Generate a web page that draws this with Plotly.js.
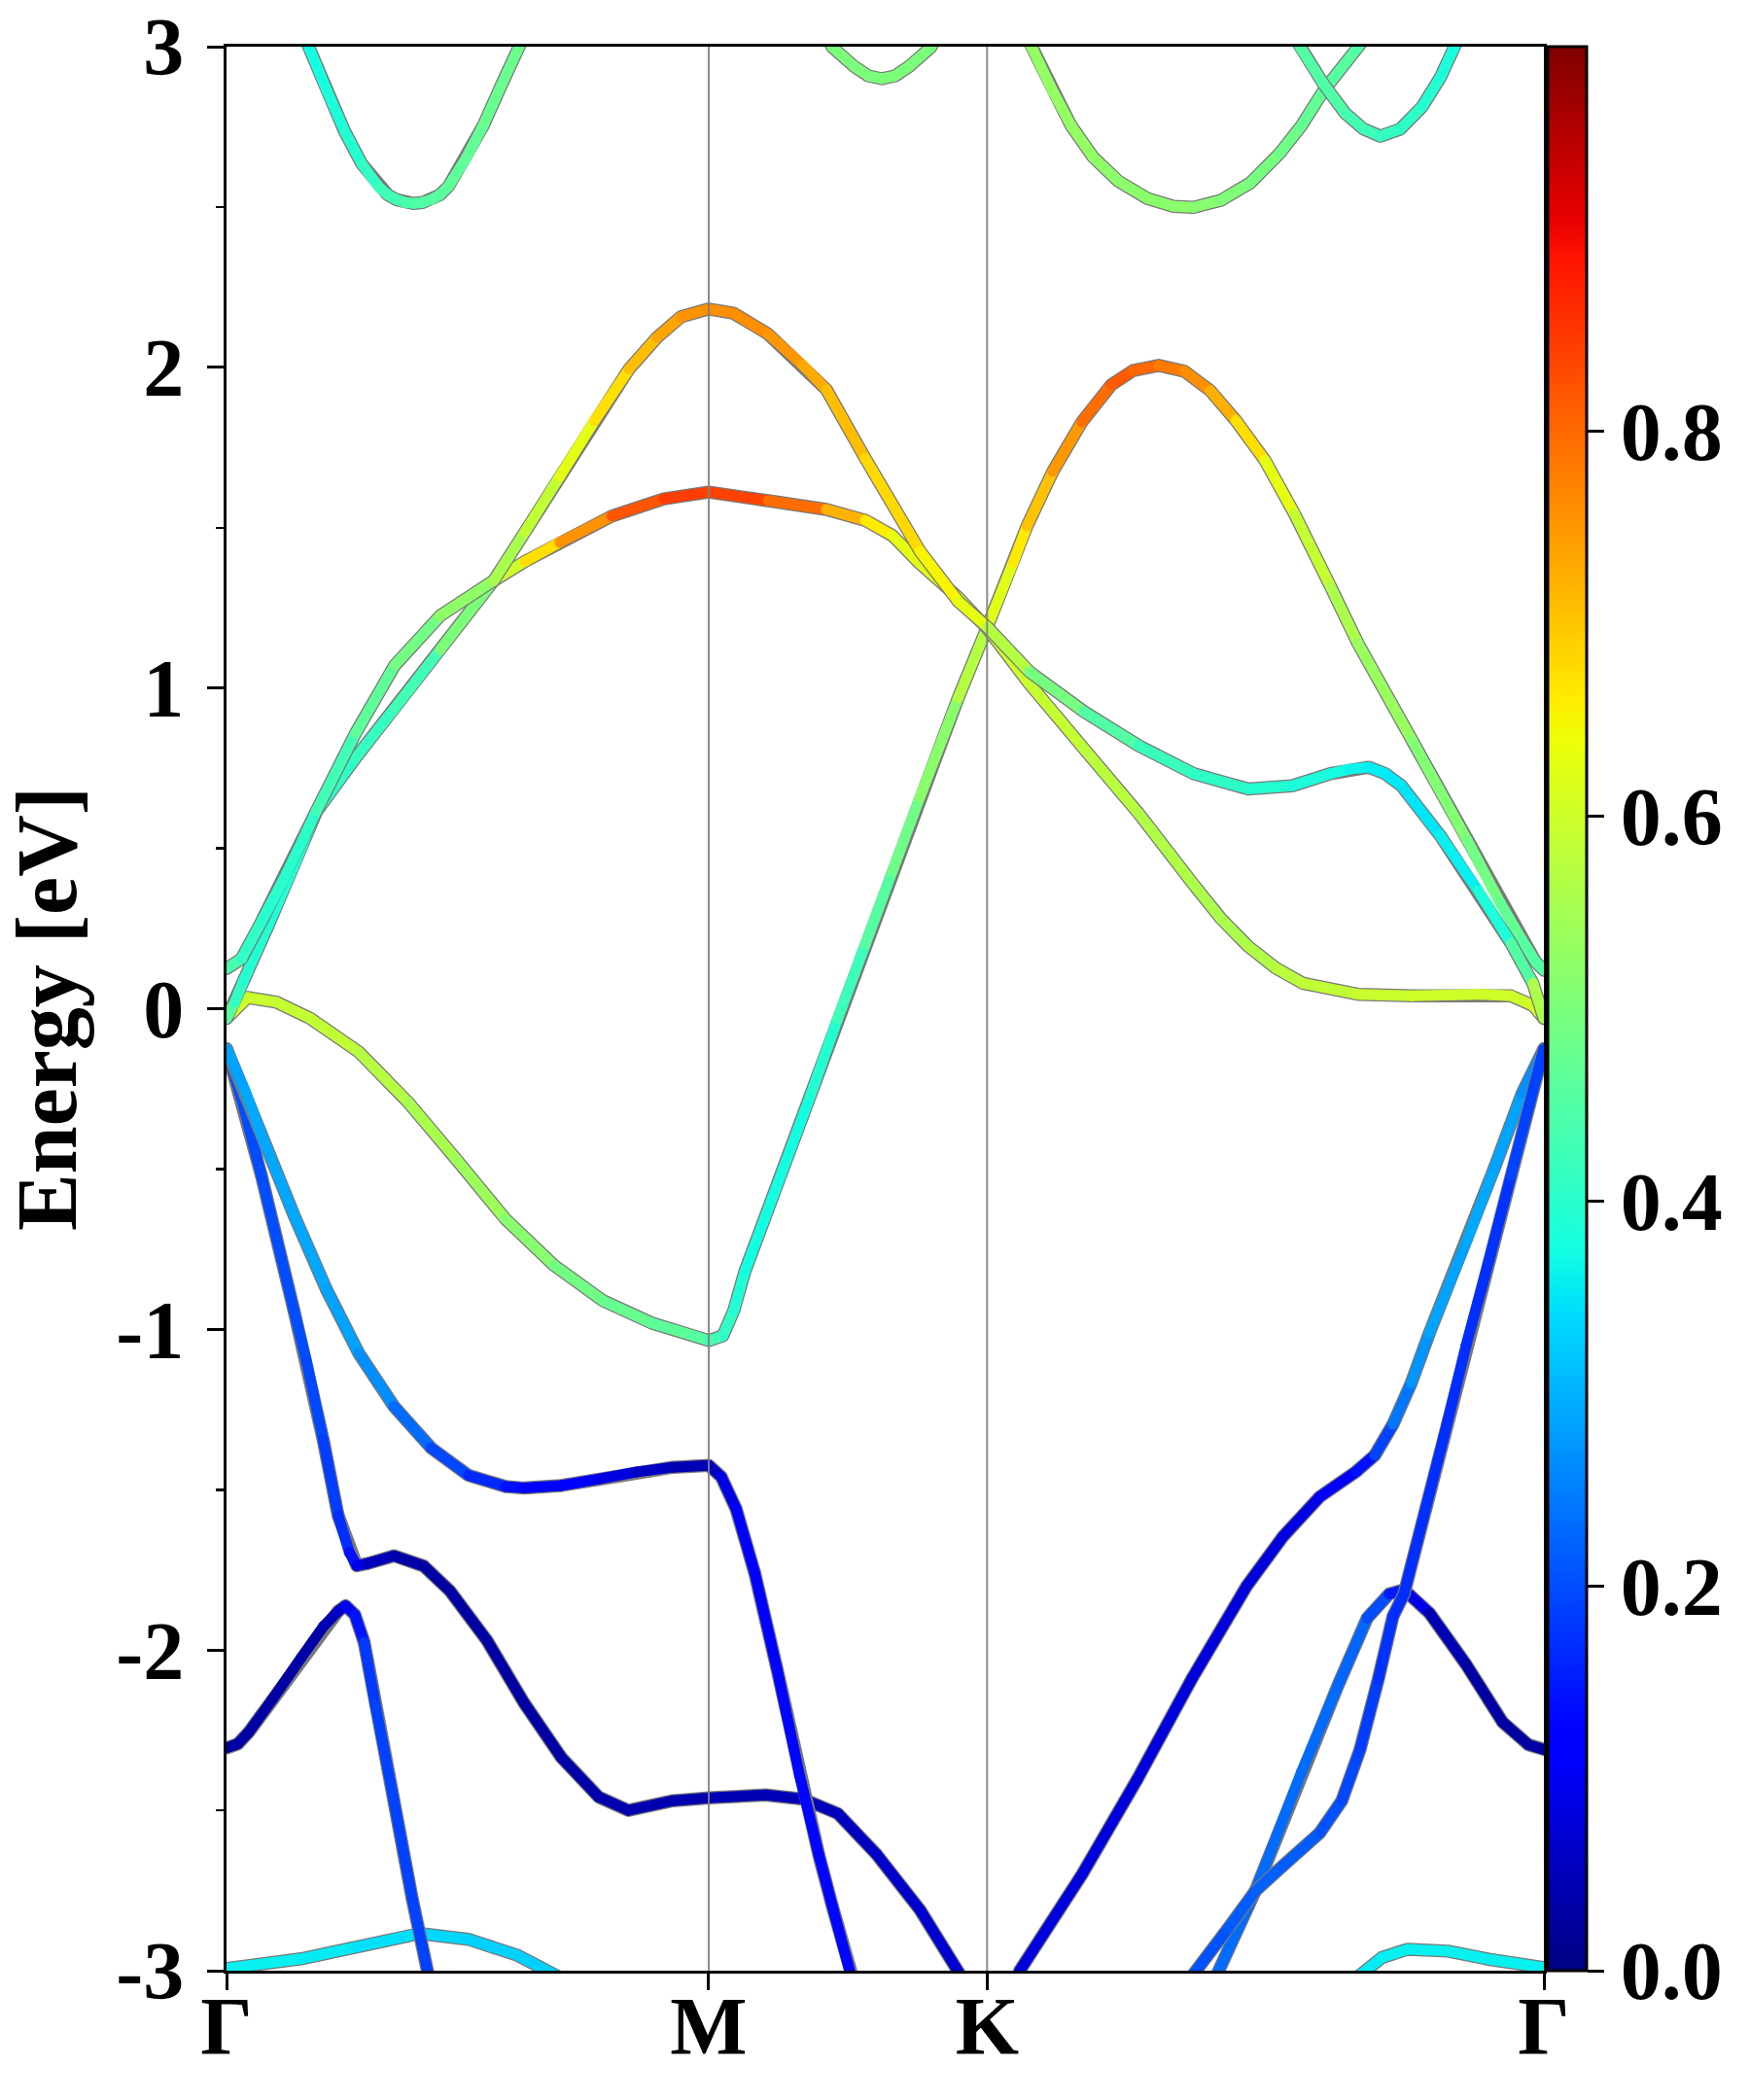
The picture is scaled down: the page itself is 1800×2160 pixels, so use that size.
<!DOCTYPE html>
<html><head><meta charset="utf-8">
<script src="https://cdn.plot.ly/plotly-3.0.1.min.js"></script>
<style>
html,body{margin:0;padding:0;background:#fff;}
#chart{width:1800px;height:2160px;}
#chart .js-line{stroke-linecap:round;stroke-linejoin:round;}
</style></head><body><div id="chart"></div>
<script>
// k-path high-symmetry points and labels
const xTickVals = [0, 0.5774, 0.9107, 1.5774];
const xTickText = ['Γ', 'M', 'K', 'Γ'];
const yTickVals = [-3, -2, -1, 0, 1, 2, 3];
const yTickText = ['-3', '-2', '-1', '0', '1', '2', '3'];
const yMinorVals = [-2.5, -1.5, -0.5, 0.5, 1.5, 2.5];
const cbTickVals = [0, 0.2, 0.4, 0.6, 0.8];
const cbTickText = ['0.0', '0.2', '0.4', '0.6', '0.8'];

// band 1 (cyan, near -3 eV)
const k1 = [0, 0.0891, 0.1559, 0.2316, 0.2895, 0.3474, 0.3831, 0.42, 0.9, 1.335, 1.3595, 1.3834, 1.4142, 1.4624, 1.5149, 1.5774];
const e1 = [-2.993, -2.963, -2.926, -2.884, -2.902, -2.951, -2.999, -3.05, -3.5, -3.06, -3.009, -2.959, -2.933, -2.939, -2.966, -2.99];
const w1 = [0.36, 0.36, 0.35, 0.34, 0.33, 0.33, 0.33, 0.33, 0.34, 0.35, 0.35, 0.36, 0.36, 0.36, 0.36, 0.36];

// band 2 (navy, Γ at -2.3)
const k2 = [0, 0.0134, 0.0267, 0.0535, 0.0891, 0.1158, 0.1336, 0.1425, 0.1537, 0.1648, 0.1782, 0.2004, 0.2227, 0.2405, 0.26, 1.17, 1.1865, 1.2324, 1.2872, 1.3309, 1.3659, 1.3922, 1.4099, 1.4405, 1.4842, 1.528, 1.5587, 1.5774];
const e2 = [-2.305, -2.293, -2.256, -2.159, -2.025, -1.927, -1.879, -1.862, -1.89, -1.976, -2.171, -2.47, -2.78, -3.0, -3.25, -3.25, -3.009, -2.748, -2.38, -2.11, -1.90, -1.825, -1.812, -1.885, -2.045, -2.225, -2.295, -2.31];
const w2 = [0.03, 0.03, 0.03, 0.03, 0.03, 0.04, 0.05, 0.08, 0.12, 0.17, 0.19, 0.19, 0.19, 0.19, 0.19, 0.23, 0.23, 0.23, 0.23, 0.23, 0.22, 0.18, 0.12, 0.06, 0.03, 0.03, 0.03, 0.03];

// band 3 (blue steep -> navy)
const k3 = [0, 0.02, 0.0417, 0.0806, 0.0958, 0.1158, 0.1336, 0.147, 0.1559, 0.1693, 0.2004, 0.2361, 0.2673, 0.3118, 0.3563, 0.4009, 0.4454, 0.4811, 0.5345, 0.5774, 0.6459, 0.6904, 0.732, 0.7779, 0.8303, 0.8762, 0.8959, 0.935, 0.9498, 1.0243, 1.0901, 1.1558, 1.2216, 1.2654, 1.3091, 1.3529, 1.3748, 1.3967, 1.4186, 1.4405, 1.4856, 1.5184, 1.5512, 1.5774];
const e3 = [-0.125, -0.30, -0.52, -0.94, -1.10, -1.345, -1.58, -1.695, -1.737, -1.73, -1.706, -1.738, -1.815, -1.97, -2.165, -2.335, -2.458, -2.50, -2.47, -2.461, -2.452, -2.465, -2.51, -2.636, -2.81, -3.003, -3.1, -3.12, -3.0, -2.70, -2.405, -2.09, -1.80, -1.645, -1.522, -1.443, -1.393, -1.296, -1.167, -1.01, -0.72, -0.495, -0.265, -0.125];
const w3 = [0.2, 0.2, 0.2, 0.2, 0.2, 0.19, 0.18, 0.16, 0.12, 0.06, 0.04, 0.03, 0.03, 0.03, 0.03, 0.03, 0.04, 0.04, 0.04, 0.04, 0.05, 0.05, 0.05, 0.06, 0.07, 0.07, 0.07, 0.07, 0.08, 0.08, 0.08, 0.08, 0.08, 0.08, 0.09, 0.12, 0.16, 0.22, 0.26, 0.28, 0.29, 0.29, 0.28, 0.25];

// band 4 (light blue -> steep blue)
const k4 = [0, 0.0222, 0.0417, 0.0806, 0.1195, 0.1584, 0.2004, 0.245, 0.2895, 0.3341, 0.3563, 0.4009, 0.4454, 0.49, 0.5345, 0.5774, 0.5924, 0.6102, 0.6325, 0.6592, 0.686, 0.7093, 0.7255, 0.7484, 0.7582, 1.145, 1.158, 1.1996, 1.2324, 1.2653, 1.3091, 1.3354, 1.3573, 1.3792, 1.3967, 1.4099, 1.4318, 1.4581, 1.4842, 1.5112, 1.538, 1.5774];
const e4 = [-0.125, -0.256, -0.392, -0.643, -0.875, -1.075, -1.24, -1.37, -1.455, -1.49, -1.495, -1.487, -1.467, -1.445, -1.43, -1.424, -1.46, -1.56, -1.76, -2.06, -2.39, -2.64, -2.80, -3.022, -3.1, -3.12, -3.01, -2.867, -2.75, -2.672, -2.57, -2.47, -2.31, -2.09, -1.895, -1.825, -1.60, -1.33, -1.05, -0.79, -0.52, -0.125];
const w4 = [0.28, 0.29, 0.29, 0.29, 0.29, 0.28, 0.25, 0.21, 0.18, 0.15, 0.13, 0.12, 0.10, 0.07, 0.05, 0.04, 0.07, 0.10, 0.12, 0.13, 0.13, 0.13, 0.13, 0.13, 0.13, 0.2, 0.2, 0.21, 0.22, 0.22, 0.21, 0.2, 0.19, 0.18, 0.17, 0.17, 0.17, 0.17, 0.17, 0.17, 0.18, 0.2];

// band 5 (Γ -0.03 -> M -1.04 -> K -> 2.0 max -> Γ 0.12)
const k5 = [0, 0.025, 0.06, 0.100, 0.1584, 0.2168, 0.2752, 0.3336, 0.392, 0.4504, 0.5088, 0.5594, 0.5774, 0.5944, 0.6075, 0.6206, 0.6665, 0.6993, 0.732, 0.7648, 0.7975, 0.8303, 0.8762, 0.9109, 0.9417, 0.9585, 0.9893, 1.0243, 1.0593, 1.0856, 1.1163, 1.147, 1.1777, 1.2083, 1.2434, 1.2784, 1.3222, 1.3546, 1.42, 1.4856, 1.525, 1.5512, 1.5675, 1.5774];
const e5 = [-0.03, 0.035, 0.02, -0.03, -0.135, -0.29, -0.47, -0.655, -0.80, -0.91, -0.98, -1.02, -1.035, -1.02, -0.94, -0.82, -0.50, -0.27, -0.03, 0.20, 0.43, 0.66, 0.97, 1.19, 1.39, 1.505, 1.675, 1.83, 1.945, 1.99, 2.006, 1.988, 1.928, 1.835, 1.71, 1.545, 1.315, 1.14, 0.835, 0.525, 0.33, 0.214, 0.146, 0.12];
const w5 = [0.62, 0.6, 0.59, 0.59, 0.58, 0.56, 0.55, 0.53, 0.5, 0.48, 0.47, 0.46, 0.45, 0.42, 0.4, 0.38, 0.37, 0.38, 0.41, 0.44, 0.47, 0.5, 0.54, 0.6, 0.645, 0.68, 0.73, 0.77, 0.82, 0.81, 0.79, 0.77, 0.75, 0.70, 0.65, 0.61, 0.57, 0.55, 0.52, 0.5, 0.48, 0.46, 0.45, 0.45];

// band 6 (Γ -0.03 -> M 1.61 -> K -> flat 0.04 -> Γ)
const k6 = [0, 0.01, 0.02, 0.05, 0.08, 0.1078, 0.1545, 0.2012, 0.2557, 0.32, 0.3574, 0.399, 0.4613, 0.5237, 0.5774, 0.6484, 0.7182, 0.7648, 0.7975, 0.8303, 0.8762, 0.9109, 0.9614, 1.0269, 1.0924, 1.158, 1.1907, 1.2235, 1.2563, 1.289, 1.3546, 1.42, 1.4987, 1.538, 1.5643, 1.5774];
const e6 = [-0.03, 0.02, 0.085, 0.26, 0.44, 0.615, 0.782, 0.936, 1.119, 1.335, 1.395, 1.454, 1.536, 1.590, 1.611, 1.584, 1.557, 1.523, 1.475, 1.388, 1.282, 1.186, 1.013, 0.81, 0.608, 0.387, 0.281, 0.194, 0.127, 0.079, 0.045, 0.04, 0.045, 0.04, 0.01, -0.03];
const w6 = [0.5, 0.42, 0.4, 0.39, 0.39, 0.40, 0.41, 0.42, 0.44, 0.56, 0.64, 0.71, 0.80, 0.84, 0.85, 0.83, 0.76, 0.68, 0.64, 0.62, 0.62, 0.6, 0.6, 0.58, 0.57, 0.56, 0.56, 0.56, 0.57, 0.58, 0.59, 0.6, 0.6, 0.6, 0.6, 0.62];

// band 7 (Γ 0.12 -> M 2.18 -> K -> 0.75 hump -> Γ)
const k7 = [0, 0.018, 0.0417, 0.0689, 0.092, 0.1078, 0.1545, 0.2012, 0.2557, 0.32, 0.3574, 0.399, 0.4405, 0.4821, 0.5154, 0.5445, 0.5774, 0.6068, 0.6484, 0.6899, 0.7182, 0.7648, 0.8303, 0.8762, 0.9109, 0.9614, 1.0269, 1.0924, 1.158, 1.2235, 1.276, 1.3218, 1.3447, 1.3677, 1.3873, 1.407, 1.4529, 1.4987, 1.538, 1.5643, 1.5774];
const e7 = [0.125, 0.156, 0.271, 0.406, 0.53, 0.618, 0.859, 1.070, 1.225, 1.335, 1.487, 1.660, 1.833, 1.995, 2.093, 2.158, 2.182, 2.169, 2.104, 2.007, 1.931, 1.716, 1.427, 1.27, 1.19, 1.051, 0.926, 0.82, 0.733, 0.685, 0.695, 0.733, 0.747, 0.753, 0.733, 0.695, 0.541, 0.368, 0.204, 0.079, -0.03];
const w7 = [0.46, 0.42, 0.40, 0.40, 0.40, 0.41, 0.45, 0.48, 0.5, 0.55, 0.56, 0.61, 0.645, 0.70, 0.72, 0.75, 0.76, 0.76, 0.76, 0.74, 0.72, 0.70, 0.66, 0.64, 0.62, 0.52, 0.47, 0.43, 0.41, 0.40, 0.39, 0.38, 0.37, 0.36, 0.355, 0.35, 0.35, 0.37, 0.40, 0.5, 0.62];

// band 8 (top, Γ-M, min 2.51)
const k8 = [0.082, 0.0996, 0.1204, 0.1412, 0.1620, 0.1827, 0.1931, 0.2035, 0.2139, 0.2243, 0.2347, 0.2451, 0.2555, 0.2659, 0.2866, 0.3074, 0.3282, 0.3490, 0.368];
const e8 = [3.10, 2.992, 2.862, 2.737, 2.634, 2.561, 2.538, 2.523, 2.514, 2.511, 2.514, 2.523, 2.538, 2.565, 2.651, 2.754, 2.875, 2.992, 3.10];
const w8 = [0.37, 0.37, 0.38, 0.39, 0.40, 0.42, 0.43, 0.43, 0.44, 0.44, 0.45, 0.45, 0.46, 0.46, 0.47, 0.47, 0.48, 0.48, 0.48];

// band 9 (top, M-K, min 2.9)
const k9 = [0.704, 0.7255, 0.7517, 0.7685, 0.7845, 0.8005, 0.8172, 0.8434, 0.865];
const e9 = [3.1, 2.998, 2.938, 2.909, 2.90, 2.909, 2.938, 2.998, 3.1];
const w9 = [0.5, 0.5, 0.5, 0.5, 0.5, 0.5, 0.5, 0.5, 0.5];

// band 10 (top, K-Γ, min 2.5)
const k10 = [0.945, 0.9652, 0.9893, 1.0112, 1.0375, 1.0681, 1.1031, 1.1339, 1.158, 1.1908, 1.2258, 1.2609, 1.2872, 1.3134, 1.3529, 1.384];
const e10 = [3.1, 2.992, 2.862, 2.754, 2.656, 2.580, 2.526, 2.502, 2.499, 2.521, 2.575, 2.667, 2.754, 2.862, 2.992, 3.1];
const w10 = [0.53, 0.53, 0.53, 0.53, 0.53, 0.52, 0.52, 0.52, 0.52, 0.51, 0.50, 0.49, 0.48, 0.46, 0.45, 0.45];

// band 11 (top, K-Γ, min 2.72)
const k11 = [1.262, 1.2872, 1.3134, 1.3397, 1.3616, 1.3813, 1.4054, 1.4317, 1.4536, 1.4690, 1.488];
const e11 = [3.1, 2.992, 2.884, 2.792, 2.743, 2.721, 2.743, 2.813, 2.905, 2.992, 3.1];
const w11 = [0.45, 0.45, 0.45, 0.44, 0.43, 0.42, 0.41, 0.40, 0.39, 0.38, 0.38];

// matplotlib "jet" colour scale
const jetScale = [[0,'rgb(0,0,128)'],[0.11,'rgb(0,0,255)'],[0.125,'rgb(0,0,255)'],[0.34,'rgb(0,219,255)'],[0.35,'rgb(0,230,247)'],[0.375,'rgb(20,255,226)'],[0.64,'rgb(238,255,8)'],[0.65,'rgb(247,245,0)'],[0.66,'rgb(255,236,0)'],[0.89,'rgb(255,19,0)'],[0.91,'rgb(232,0,0)'],[1,'rgb(128,0,0)']];

function scaleColor(scale, v){
  v = Math.max(0, Math.min(1, v));
  for (let i = 1; i < scale.length; i++) {
    if (v <= scale[i][0]) {
      const a = scale[i-1], b = scale[i];
      const t = (v - a[0]) / ((b[0] - a[0]) || 1);
      const ca = a[1].match(/\d+/g).map(Number), cb = b[1].match(/\d+/g).map(Number);
      return 'rgb(' + ca.map((c, j) => Math.round(c + (cb[j] - c) * t)).join(',') + ')';
    }
  }
  return scale[scale.length-1][1];
}

const bands = [[k1,e1,w1],[k2,e2,w2],[k3,e3,w3],[k4,e4,w4],[k5,e5,w5],[k6,e6,w6],[k7,e7,w7],[k8,e8,w8],[k9,e9,w9],[k10,e10,w10],[k11,e11,w11]];

const FONT = 'Liberation Serif, Times New Roman, serif';
const traces = [];
const allK = [], allE = [], allW = [];
bands.forEach(([k, e, w]) => {
  traces.push({x: k, y: e, mode: 'lines', type: 'scatter', hoverinfo: 'skip',
    line: {color: 'rgb(120,120,120)', width: 13.5}});
  for (let i = 0; i < k.length - 1; i++) {
    traces.push({x: [k[i], k[i+1]], y: [e[i], e[i+1]], mode: 'lines', type: 'scatter', hoverinfo: 'skip',
      line: {color: scaleColor(jetScale, (w[i] + w[i+1]) / 2), width: 11}});
  }
  allK.push(...k); allE.push(...e); allW.push(...w);
});

// invisible markers carrying the weights -> colour bar
traces.push({x: allK, y: allE, mode: 'markers', type: 'scatter', hoverinfo: 'skip',
  marker: {size: 1, opacity: 0, color: allW, colorscale: jetScale, cmin: 0, cmax: 1, showscale: true,
    colorbar: {thickness: 40, thicknessmode: 'pixels', len: 1, lenmode: 'fraction',
      x: 1.003, xanchor: 'left', y: 0.5, yanchor: 'middle', xpad: 0, ypad: 0,
      outlinewidth: 3, outlinecolor: 'black',
      tickmode: 'array', tickvals: cbTickVals, ticktext: cbTickText,
      ticks: 'outside', ticklen: 17, tickwidth: 3, tickcolor: 'black',
      tickfont: {family: FONT, size: 84, color: 'black', weight: 'bold'}}}});

const layout = {
  width: 1800, height: 2160,
  margin: {l: 233, r: 212, t: 48, b: 133, pad: 0, autoexpand: false},
  paper_bgcolor: 'white', plot_bgcolor: 'white',
  showlegend: false, hovermode: false,
  font: {family: FONT, color: 'black', size: 84, weight: 'bold'},
  xaxis: {range: [xTickVals[0], xTickVals[3]], tickmode: 'array', tickvals: xTickVals, ticktext: xTickText,
    ticks: 'outside', ticklen: 17, tickwidth: 3, tickcolor: 'black',
    showline: true, linewidth: 3, linecolor: 'black', mirror: true,
    showgrid: false, zeroline: false, ticklabelstandoff: -35,
    tickfont: {family: FONT, size: 84, color: 'black', weight: 'bold'}},
  yaxis: {range: [-3, 3], tickmode: 'array', tickvals: yTickVals, ticktext: yTickText,
    ticks: 'outside', ticklen: 17, tickwidth: 3, tickcolor: 'black',
    showline: true, linewidth: 3, linecolor: 'black', mirror: true,
    showgrid: false, zeroline: false, ticklabelstandoff: 7,
    minor: {tickvals: yMinorVals, ticks: 'outside', ticklen: 8, tickwidth: 2.5, tickcolor: 'black', showgrid: false},
    tickfont: {family: FONT, size: 84, color: 'black', weight: 'bold'},
    title: {text: 'Energy [eV]', standoff: 22, font: {family: FONT, size: 88, color: 'black', weight: 'bold'}}},
  shapes: [xTickVals[1], xTickVals[2]].map(v => ({type: 'line', xref: 'x', yref: 'paper', x0: v, x1: v, y0: 0, y1: 1,
    layer: 'above', line: {color: 'rgba(128,128,128,0.9)', width: 2}}))
};

Plotly.newPlot('chart', traces, layout, {staticPlot: true, displayModeBar: false});
</script></body></html>
